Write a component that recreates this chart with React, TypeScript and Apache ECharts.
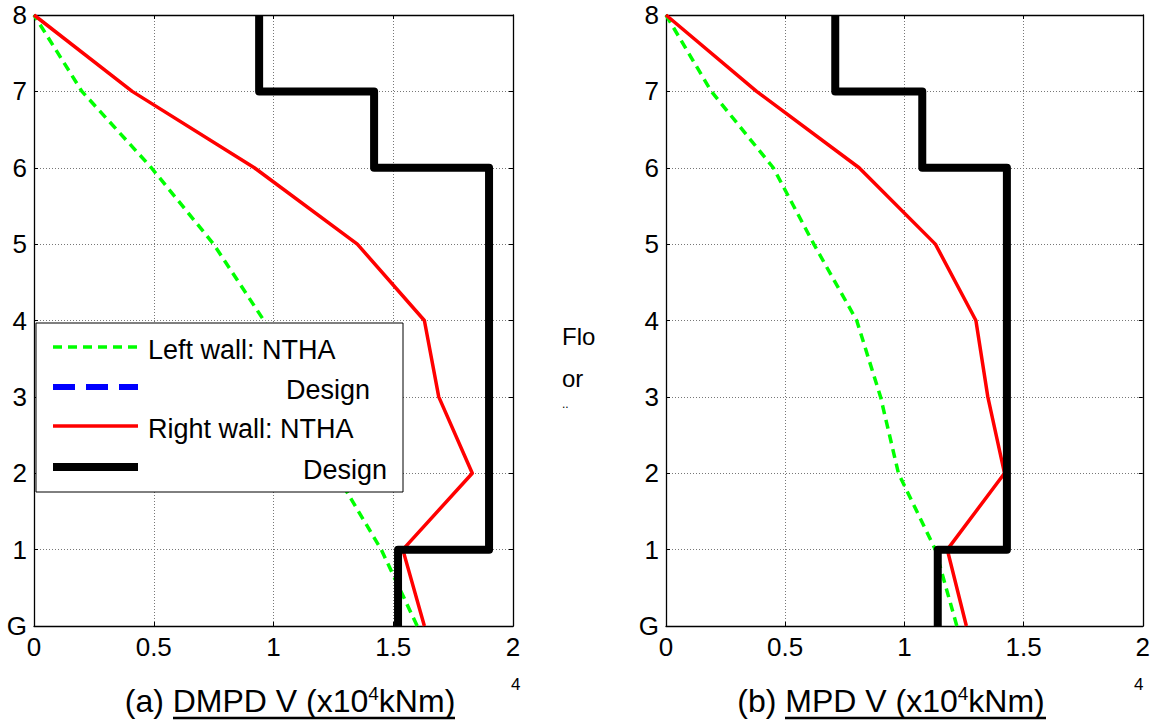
import React, { useEffect, useRef } from "react";
import * as echarts from "echarts";

// Floors: G(0) .. 8
const floors = [0, 1, 2, 3, 4, 5, 6, 7, 8];

// (a) DMPD
const aLeftNTHA = [1.6, 1.45, 1.26, 1.12, 0.96, 0.75, 0.49, 0.2, 0];
const aRightNTHA = [1.63, 1.54, 1.83, 1.69, 1.63, 1.35, 0.92, 0.41, 0];
// design value per storey 1..8
const aLeftDesign = [1.52, 1.9, 1.9, 1.9, 1.9, 1.9, 1.42, 0.94];
const aRightDesign = [1.52, 1.9, 1.9, 1.9, 1.9, 1.9, 1.42, 0.94];

// (b) MPD
const bLeftNTHA = [1.22, 1.13, 0.975, 0.9, 0.8, 0.62, 0.45, 0.19, 0];
const bRightNTHA = [1.26, 1.18, 1.42, 1.35, 1.3, 1.13, 0.81, 0.38, 0];
const bLeftDesign = [1.14, 1.43, 1.43, 1.43, 1.43, 1.43, 1.075, 0.71];
const bRightDesign = [1.14, 1.43, 1.43, 1.43, 1.43, 1.43, 1.075, 0.71];

const legendNames = ["Left wall: NTHA", "Design", "Right wall: NTHA", "Design"];
const captions = [
  { tag: "(a) ", body: "DMPD V (x10", tail: "kNm)" },
  { tag: "(b) ", body: "MPD V (x10", tail: "kNm)" },
];

const FONT = "'Liberation Sans', Arial, sans-serif";

const profile = (vals: number[]) => vals.map((v, i) => [v, floors[i]]);
const steps = (vals: number[]) => {
  const pts: number[][] = [];
  vals.forEach((v, i) => {
    pts.push([v, floors[i]]);
    pts.push([v, floors[i + 1]]);
  });
  return pts;
};

const GRIDS = [
  { left: 34, top: 15, width: 479, height: 611 },
  { left: 666, top: 15, width: 477, height: 611 },
];

export default function App() {
  const ref = useRef<HTMLDivElement>(null);
  useEffect(() => {
    document.body.style.margin = "0";
    const chart = echarts.init(ref.current!, null, { renderer: "svg" });

    const xAxes: any[] = [];
    const yAxes: any[] = [];
    const gridLine = { show: true, lineStyle: { color: "#777", type: [1, 2], width: 1 } };
    GRIDS.forEach((_, g) => {
      const base = {
        type: "value",
        min: 0,
        max: 2,
        interval: 0.5,
        gridIndex: g,
        axisLine: { show: true, onZero: false, lineStyle: { color: "#000", width: 1.3 } },
        axisTick: { show: true, inside: true, length: 4, lineStyle: { color: "#000" } },
      };
      xAxes.push({
        ...base,
        position: "bottom",
        axisLabel: {
          show: true,
          color: "#000",
          fontSize: 26,
          fontFamily: FONT,
          margin: 8,
          showMinLabel: true,
          showMaxLabel: true,
        },
        splitLine: gridLine,
      });
      xAxes.push({
        ...base,
        position: "top",
        axisLabel: { show: false },
        splitLine: { show: false },
      });
      const ybase = {
        type: "value",
        min: 0,
        max: 8,
        interval: 1,
        gridIndex: g,
        axisLine: { show: true, onZero: false, lineStyle: { color: "#000", width: 1.3 } },
        axisTick: { show: true, inside: true, length: 4, lineStyle: { color: "#000" } },
      };
      yAxes.push({
        ...ybase,
        position: "left",
        axisLabel: {
          show: true,
          color: "#000",
          fontSize: 26,
          fontFamily: FONT,
          margin: 7,
          showMinLabel: true,
          showMaxLabel: true,
          formatter: (v: number) => (v === 0 ? "G" : String(v)),
        },
        splitLine: gridLine,
      });
      yAxes.push({
        ...ybase,
        position: "right",
        axisLabel: { show: false },
        splitLine: { show: false },
      });
    });

    const mk = (g: number, name: string, data: number[][], color: string, width: number, dashed: boolean) => ({
      type: "line",
      name,
      xAxisIndex: g * 2,
      yAxisIndex: g * 2,
      data,
      showSymbol: false,
      symbol: "none",
      silent: true,
      lineStyle: {
        color,
        width,
        type: dashed ? [9, 6] : "solid",
        join: "round",
        cap: "butt",
      },
      z: 3,
    });

    const series: any[] = [];
    const sets = [
      { ln: aLeftNTHA, rn: aRightNTHA, ld: aLeftDesign, rd: aRightDesign },
      { ln: bLeftNTHA, rn: bRightNTHA, ld: bLeftDesign, rd: bRightDesign },
    ];
    sets.forEach((s, g) => {
      series.push(mk(g, legendNames[0], profile(s.ln), "#00ff00", 3.5, true));
      series.push(mk(g, legendNames[1], steps(s.ld), "#0000ff", 6, true));
      series.push(mk(g, legendNames[2], profile(s.rn), "#ff0000", 3.5, false));
      series.push(mk(g, legendNames[3], steps(s.rd), "#000000", 8, false));
    });

    const legendRows = [
      { y: 347, color: "#00ff00", width: 3.5, dash: [9, 6], text: legendNames[0], tx: 148 },
      { y: 387, color: "#0000ff", width: 6, dash: [22, 11], text: legendNames[1], tx: 286 },
      { y: 426, color: "#ff0000", width: 3.5, dash: null, text: legendNames[2], tx: 148 },
      { y: 467, color: "#000000", width: 8, dash: null, text: legendNames[3], tx: 303 },
    ];
    const legendEls: any[] = [
      {
        type: "rect",
        shape: { x: 36, y: 323, width: 367, height: 169 },
        style: { fill: "#fff", stroke: "#000", lineWidth: 1 },
        z: 100,
      },
    ];
    legendRows.forEach((r) => {
      legendEls.push({
        type: "line",
        shape: { x1: 53, y1: r.y, x2: 138, y2: r.y },
        style: { stroke: r.color, lineWidth: r.width, lineDash: r.dash || undefined },
        z: 101,
      });
      legendEls.push({
        type: "text",
        x: r.tx,
        y: r.y + 3,
        style: {
          text: r.text,
          fill: "#000",
          font: `27px ${FONT}`,
          verticalAlign: "middle",
        },
        z: 101,
      });
    });

    const capEls: any[] = [];
    const capPos = [
      { cx: 290, ux1: 173, ux2: 455 },
      { cx: 891, ux1: 785, ux2: 1046 },
    ];
    captions.forEach((c, i) => {
      capEls.push({
        type: "text",
        x: capPos[i].cx,
        y: 701,
        style: {
          text: `{n|${c.tag}}{n|${c.body}}{s|4}{n|${c.tail}}`,
          align: "center",
          verticalAlign: "middle",
          rich: {
            n: { fontSize: 32, fontFamily: FONT, fill: "#000" },
            s: { fontSize: 19, fontFamily: FONT, fill: "#000", verticalAlign: "top", padding: [0, 0, 15, 0] },
          },
        },
      });
      capEls.push({
        type: "line",
        shape: { x1: capPos[i].ux1, y1: 718, x2: capPos[i].ux2, y2: 718 },
        style: { stroke: "#000", lineWidth: 2.5 },
      });
    });
    // clipped exponent marks near axis ends
    [511, 1134].forEach((x) => {
      capEls.push({
        type: "text",
        x,
        y: 676,
        style: { text: "4", font: `17px ${FONT}`, fill: "#000" },
      });
    });
    // clipped y-axis label of the right plot
    const floorBits = [
      { t: "Flo", y: 336, s: 24 },
      { t: "or", y: 378, s: 24 },
      { t: "..", y: 404, s: 12 },
    ];
    floorBits.forEach((f) => {
      capEls.push({
        type: "text",
        x: 562,
        y: f.y,
        style: { text: f.t, font: `${f.s}px ${FONT}`, fill: "#000", verticalAlign: "middle" },
      });
    });

    chart.setOption({
      animation: false,
      backgroundColor: "#fff",
      grid: GRIDS.map((g) => ({ ...g, containLabel: false, show: false })),
      xAxis: xAxes,
      yAxis: yAxes,
      series,
      graphic: [...legendEls, ...capEls],
    });
    return () => chart.dispose();
  }, []);
  return <div ref={ref} style={{ width: 1153, height: 724 }} />;
}
